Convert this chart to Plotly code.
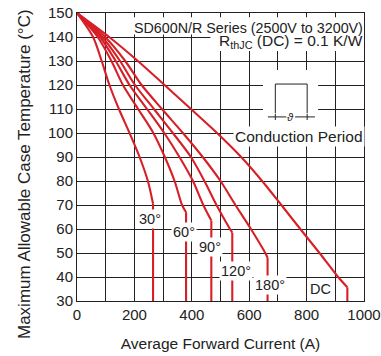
import plotly.graph_objects as go

# Curve data: (current A, case temperature °C)
angles = ["30°", "60°", "90°", "120°", "180°", "DC"]

i_30 = [0, 56, 86, 113, 146, 183, 218, 247, 265]
t_30 = [150, 140, 130, 120, 110, 100, 90, 80, 70.5]

i_60 = [0, 72, 120, 160, 213, 266, 306, 340, 366, 380]
t_60 = [150, 140, 130, 120, 110, 100, 90, 80, 70, 67]

i_90 = [0, 80, 135, 183, 244, 304, 357, 404, 440, 468]
t_90 = [150, 140, 130, 120, 110, 100, 90, 80, 70, 63.5]

i_120 = [0, 88, 150, 202, 268, 334, 397, 444, 486, 533, 541]
t_120 = [150, 140, 130, 120, 110, 100, 90, 80, 70, 60, 58.5]

i_180 = [0, 98, 168, 225, 296, 369, 438, 500, 552, 606, 656, 664]
t_180 = [150, 140, 130, 120, 110, 100, 90, 80, 70, 60, 50, 48]

i_dc = [0, 112, 212, 305, 397, 488, 572, 645, 712, 778, 845, 910, 942]
t_dc = [150, 140, 130, 120, 110, 100, 90, 80, 70, 60, 50, 40, 35.7]

t_floor = 30  # vertical drop of each curve down to the axis

label_i = [254, 373, 463, 554, 672, 847]
label_t = [64, 58.7, 52.5, 42.5, 36.7, 35]

x_ticks = [0, 200, 400, 600, 800, 1000]
y_ticks = [30, 40, 50, 60, 70, 80, 90, 100, 110, 120, 130, 140, 150]

RED = "#d71f27"
INK = "#222"
FONT = "Liberation Sans, Arial, sans-serif"

W, H = 381, 356
L, R, T, B = 77, 17, 13, 55

fig = go.Figure()
for xs, ys in [(i_30, t_30), (i_60, t_60), (i_90, t_90), (i_120, t_120), (i_180, t_180), (i_dc, t_dc)]:
    fig.add_trace(go.Scatter(x=xs, y=ys, mode="lines",
                             line=dict(color=RED, width=2.1, shape="spline", smoothing=0.8),
                             cliponaxis=False, showlegend=False, hoverinfo="skip"))
    fig.add_trace(go.Scatter(x=[xs[-1], xs[-1]], y=[ys[-1], t_floor], mode="lines",
                             line=dict(color=RED, width=2.1),
                             cliponaxis=False, showlegend=False, hoverinfo="skip"))

annotations = []
for txt, xi, yt in zip(angles, label_i, label_t):
    annotations.append(dict(x=xi, y=yt, text=txt, showarrow=False,
                            bgcolor="white", borderpad=1,
                            font=dict(size=14.5, color=INK, family=FONT)))

annotations.append(dict(x=1000, y=138.0, xanchor="right", yanchor="middle",
                        text="R<sub>thJC</sub> (DC) = 0.1 K/W",
                        showarrow=False, borderpad=0,
                        font=dict(size=15.5, color=INK, family=FONT)))
annotations.append(dict(x=1000, y=143.7, xanchor="right", yanchor="middle",
                        text="SD600N/R Series (2500V to 3200V)",
                        showarrow=False, borderpad=0,
                        font=dict(size=14.3, color=INK, family=FONT)))
annotations.append(dict(x=773, y=98.5, text="Conduction Period", showarrow=False,
                        bgcolor="white", borderpad=1,
                        font=dict(size=15.5, color=INK, family=FONT)))
annotations.append(dict(x=745, y=106.8, text="<i>ϑ</i>", showarrow=False,
                        bgcolor="white", borderpad=0,
                        font=dict(size=11, color=INK, family=FONT)))
annotations.append(dict(x=(24 - L) / (W - L - R), y=1 - (174 - T) / (H - T - B),
                        xref="paper", yref="paper", xanchor="center", yanchor="middle",
                        text="Maximum Allowable Case Temperature (°C)", textangle=-90,
                        showarrow=False, font=dict(size=17, color=INK, family=FONT)))

shapes = [
    # white backdrops behind the header texts (between grid and traces)
    dict(type="rect", xref="x", yref="y", x0=175, x1=1000, y0=141.0, y1=148.2,
         fillcolor="white", line=dict(width=0), layer="between"),
    dict(type="rect", xref="x", yref="y", x0=465, x1=1000, y0=134.2, y1=141.1,
         fillcolor="white", line=dict(width=0), layer="between"),
    # conduction-period icon
    dict(type="rect", xref="x", yref="y", x0=648, x1=840, y0=102, y1=126.3,
         fillcolor="white", line=dict(width=0), layer="above"),
    dict(type="path", xref="x", yref="y",
         path="M 691 108.3 L 691 120.4 L 802 120.4 L 802 108.3",
         line=dict(color=INK, width=1), layer="above"),
    dict(type="line", xref="x", yref="y", x0=665, x1=730, y0=106.7, y1=106.7,
         line=dict(color=INK, width=1), layer="above"),
    dict(type="line", xref="x", yref="y", x0=760, x1=829, y0=106.7, y1=106.7,
         line=dict(color=INK, width=1), layer="above"),
    dict(type="line", xref="x", yref="y", x0=691, x1=691, y0=105.4, y1=108.0,
         line=dict(color=INK, width=1), layer="above"),
    dict(type="line", xref="x", yref="y", x0=802, x1=802, y0=105.4, y1=108.0,
         line=dict(color=INK, width=1), layer="above"),
]

fig.update_layout(
    width=W, height=H,
    margin=dict(l=L, r=R, t=T, b=B, autoexpand=False),
    paper_bgcolor="white", plot_bgcolor="white",
    font=dict(family=FONT, size=15, color=INK),
    annotations=annotations, shapes=shapes,
    xaxis=dict(range=[0, 1000], tickvals=x_ticks, automargin=False,
               showgrid=True, gridcolor=INK, gridwidth=1,
               showline=True, linecolor=INK, linewidth=1, mirror=True,
               zeroline=False, ticks="",
               minor=dict(dtick=100, showgrid=True, gridcolor=INK, gridwidth=1),
               title=dict(text="Average Forward Current (A)", standoff=16,
                          font=dict(size=15.5, family=FONT, color=INK)),
               tickfont=dict(size=15, family=FONT, color=INK)),
    yaxis=dict(range=[30, 150], tickvals=y_ticks, automargin=False,
               showgrid=True, gridcolor=INK, gridwidth=1,
               showline=True, linecolor=INK, linewidth=1, mirror=True,
               zeroline=False, ticks="",
               tickfont=dict(size=15, family=FONT, color=INK)),
)

fig.write_html("out.html")
